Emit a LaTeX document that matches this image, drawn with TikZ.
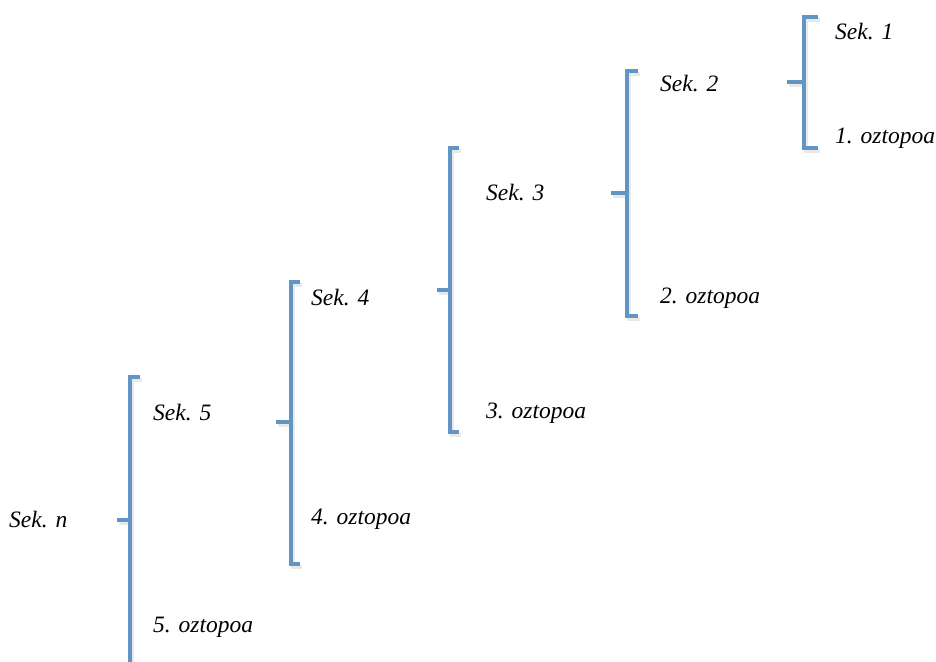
\documentclass[tikz,border=0pt]{standalone}
\usepackage{fontspec}
\setmainfont{Liberation Serif}
\definecolor{brk}{RGB}{98,148,196}
\begin{document}
\begin{tikzpicture}[x=1pt,y=-1pt,
  lbl/.style={anchor=west,inner sep=0pt,font=\fontsize{23.5}{26}\selectfont\itshape},
  brace/.style={draw=brk,line width=3.6pt,line cap=butt,line join=miter},
  braceshadow/.style={draw=black!25,line width=3.6pt,opacity=0.35}]
\useasboundingbox (0,0) rectangle (936,661);

% labels
\node[lbl] (sn) at (9,520) {Sek. n};
\node[lbl] (s5) at (153,413) {Sek. 5};
\node[lbl] (o5) at (153,627) {5. oztopoa};
\node[lbl] (s4) at (311,298) {Sek. 4};
\node[lbl] (o4) at (311,519) {4. oztopoa};
\node[lbl] (s3) at (486,193) {Sek. 3};
\node[lbl] (o3) at (486,413) {3. oztopoa};
\node[lbl] (s2) at (660,84) {Sek. 2};
\node[lbl] (o2) at (660,298) {2. oztopoa};
\node[lbl] (s1) at (835,32) {Sek. 1};
\node[lbl] (o1) at (835,138) {1. oztopoa};

% one bracket: x, top, bottom, tick end, stub start, stub y
\newcommand{\bracketat}[6]{%
  \draw[braceshadow] (#4+2,#2+3) -- (#1+2,#2+3) -- (#1+2,#3+3) -- (#4+2,#3+3);
  \draw[braceshadow] (#5+2,#6+3) -- (#1+2,#6+3);
  \draw[brace] (#4,#2) -- (#1,#2) -- (#1,#3) -- (#4,#3);
  \draw[brace] (#5,#6) -- (#1,#6);
}
\bracketat{130}{377}{664}{140}{117}{520}
\bracketat{291}{282}{564}{300}{276}{422}
\bracketat{450}{148}{432}{459}{437}{290}
\bracketat{627}{71}{316}{638}{611}{193}
\bracketat{804}{17}{148}{818}{787}{82}
\end{tikzpicture}
\end{document}
